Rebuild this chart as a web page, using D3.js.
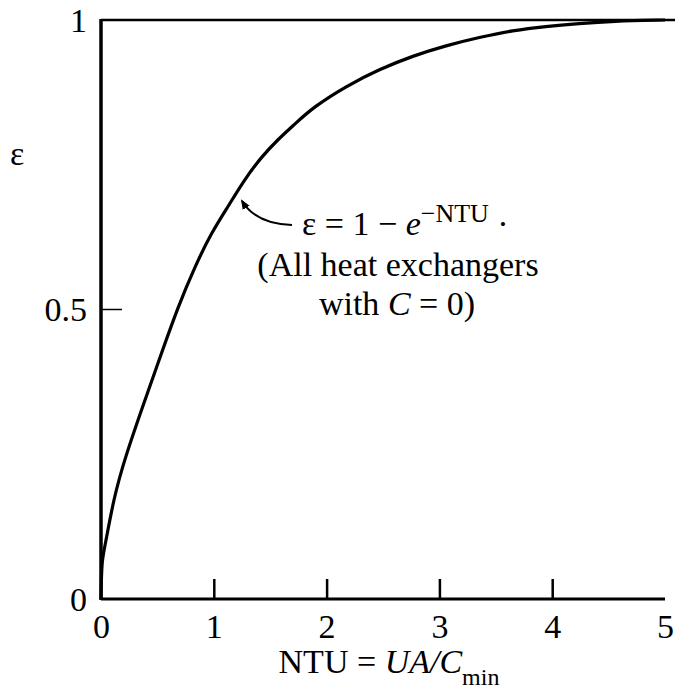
<!DOCTYPE html>
<html>
<head>
<meta charset="utf-8">
<script src="https://cdn.jsdelivr.net/npm/d3@7"></script>
<style>
  body { margin: 0; background: #fff; }
  svg text { font-family: "Liberation Serif", "DejaVu Serif", serif; fill: #000; }
</style>
</head>
<body>
<svg id="chart" width="675" height="696"></svg>
<script>
// curve eps = 1 - exp(-NTU)
const ntu = [0, 0.006, 0.035, 0.109, 0.212, 0.39, 0.537, 0.684, 0.832, 0.98, 1.127, 1.274, 1.42, 1.57,
             1.717, 1.879, 2.174, 2.469, 2.764, 3.06, 3.354, 3.65, 3.944, 4.24, 4.53, 5.0];
const eps = [0, 0.067, 0.09, 0.171, 0.244, 0.344, 0.425, 0.505, 0.574, 0.633, 0.678, 0.725, 0.763, 0.794,
             0.82, 0.849, 0.886, 0.915, 0.938, 0.956, 0.97, 0.982, 0.989, 0.994, 0.998, 1.0];

const xTicks = [0, 1, 2, 3, 4, 5];
const xTickMarks = [1, 2, 3, 4];
const yTicks = [0, 0.5, 1];
const yTickLabels = ["0", "0.5", "1"];

const svg = d3.select("#chart");
const x = d3.scaleLinear().domain([0, 5]).range([101, 665]);
const y = d3.scaleLinear().domain([0, 1]).range([599, 20]);

// frame: left, bottom, top
svg.append("line").attr("x1", x(0)).attr("x2", x(0)).attr("y1", y(1) - 1).attr("y2", y(0) + 1)
   .attr("stroke", "#000").attr("stroke-width", 3.5);
svg.append("line").attr("x1", x(0)).attr("x2", x(5)).attr("y1", y(0)).attr("y2", y(0))
   .attr("stroke", "#000").attr("stroke-width", 3);
svg.append("line").attr("x1", x(0)).attr("x2", 675).attr("y1", y(1)).attr("y2", y(1))
   .attr("stroke", "#000").attr("stroke-width", 2.5);

// x axis ticks point inward
const xAxis = svg.append("g")
   .attr("transform", `translate(0,${y(0)})`)
   .call(d3.axisBottom(x).tickValues(xTicks).tickSize(-20).tickFormat(d3.format("d")));
xAxis.select(".domain").remove();
xAxis.selectAll(".tick line")
   .attr("stroke-width", 2.5)
   .style("display", d => xTickMarks.includes(d) ? null : "none");
xAxis.selectAll(".tick text")
   .attr("y", 39).attr("dy", 0)
   .style("font-size", "34px");

// y axis: only a tick at 0.5
const yAxis = svg.append("g")
   .attr("transform", `translate(${x(0)},0)`)
   .call(d3.axisLeft(y).tickValues(yTicks).tickSize(0).tickPadding(14)
        .tickFormat((d, i) => yTickLabels[i]));
yAxis.select(".domain").remove();
yAxis.selectAll(".tick text")
   .attr("dy", "0.33em")
   .style("font-size", "34px");
svg.append("line").attr("x1", x(0)).attr("x2", x(0) + 21).attr("y1", y(0.5)).attr("y2", y(0.5))
   .attr("stroke", "#000").attr("stroke-width", 1.5);

// curve
const line = d3.line()
   .x((d, i) => x(ntu[i]))
   .y(d => y(d))
   .curve(d3.curveBasis);
svg.append("path")
   .datum(eps)
   .attr("d", line)
   .attr("fill", "none")
   .attr("stroke", "#000")
   .attr("stroke-width", 3.2);

// axis titles
svg.append("text").attr("x", 10).attr("y", 165).style("font-size", "34px").text("ε");

const title = svg.append("text").attr("x", 389).attr("y", 673)
   .attr("text-anchor", "middle").style("font-size", "34px");
title.append("tspan").text("NTU = ");
title.append("tspan").style("font-style", "italic").text("UA/C");
title.append("tspan").attr("dy", 12).style("font-size", "24px").text("min");

// annotation
svg.append("defs").append("marker")
   .attr("id", "head").attr("viewBox", "0 0 10 10")
   .attr("refX", 8).attr("refY", 5)
   .attr("markerWidth", 5).attr("markerHeight", 5)
   .attr("orient", "auto")
   .append("path").attr("d", "M0,1 L10,5 L0,9 Z").attr("fill", "#000");

const p = d3.path();
p.moveTo(292, 225);
p.quadraticCurveTo(256, 224, 242, 201);
svg.append("path").attr("d", p.toString())
   .attr("fill", "none").attr("stroke", "#000").attr("stroke-width", 2)
   .attr("marker-end", "url(#head)");

const a1 = svg.append("text").attr("x", 302).attr("y", 235).style("font-size", "34px");
a1.append("tspan").text("ε = 1 − ");
a1.append("tspan").style("font-style", "italic").text("e");
a1.append("tspan").attr("dy", -13).style("font-size", "26px").text("−NTU");
a1.append("tspan").attr("dy", 13).text(" ·");

svg.append("text").attr("x", 398).attr("y", 276).attr("text-anchor", "middle")
   .style("font-size", "34px").text("(All heat exchangers");
const a3 = svg.append("text").attr("x", 397).attr("y", 315).attr("text-anchor", "middle")
   .style("font-size", "34px");
a3.append("tspan").text("with ");
a3.append("tspan").style("font-style", "italic").text("C");
a3.append("tspan").text(" = 0)");
</script>
</body>
</html>
